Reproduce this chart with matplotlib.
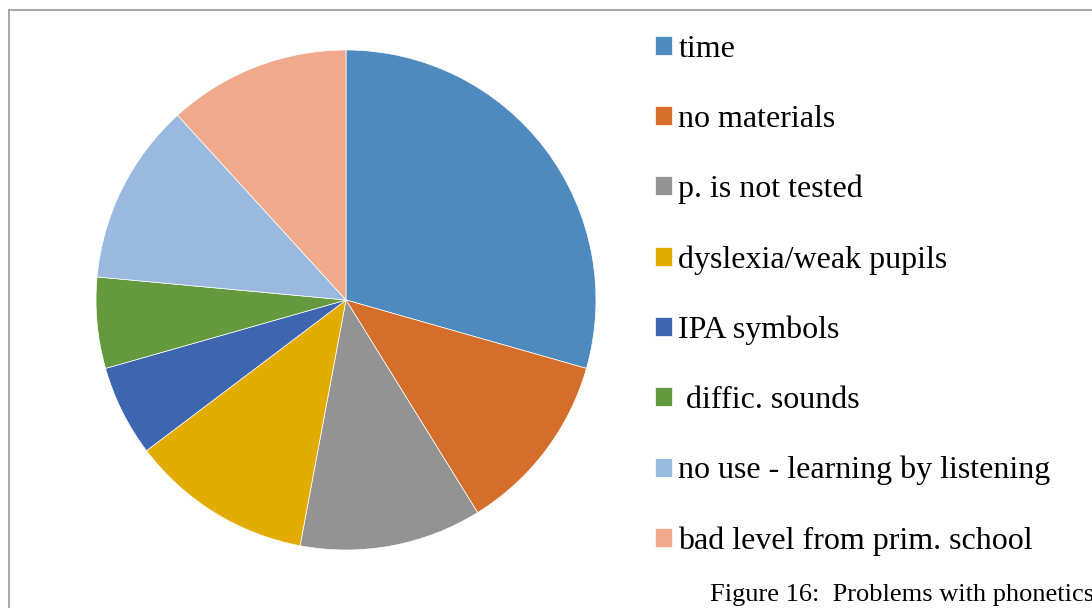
import matplotlib.pyplot as plt
from matplotlib.lines import Line2D

# problems with phonetics - number of answers
labels = ["time", "no materials", "p. is not tested", "dyslexia/weak pupils",
          "IPA symbols", " diffic. sounds", "no use - learning by listening",
          "bad level from prim. school"]
counts = [5, 2, 2, 2, 1, 1, 2, 2]
colors = ["#4F8ABE", "#D46E2A", "#939393", "#E2AC00",
          "#3E65AF", "#64993E", "#9AB9DF", "#F0A98A"]

W, H = 1092, 608
fig = plt.figure(figsize=(W / 100, H / 100), dpi=100)
plt.rcParams['font.family'] = ['Liberation Serif', 'DejaVu Serif']

# pie centre ~ (346, 300) px, radius ~250 px
cx, cy, r = 346, 300, 250
ax = fig.add_axes([(cx - r) / W, (H - cy - r) / H, 2 * r / W, 2 * r / H])
wedges, _ = ax.pie(counts, colors=colors, startangle=90, counterclock=False,
                   radius=1, wedgeprops=dict(edgecolor="white", linewidth=0.5))
ax.set_xlim(-1, 1)
ax.set_ylim(-1, 1)

leg = fig.legend(wedges, labels, loc="upper left",
                 bbox_to_anchor=(655 / W, 1 - 35 / H),
                 frameon=False, fontsize=23, borderpad=0, borderaxespad=0,
                 handlelength=0.54, handleheight=0.54, handletextpad=0.19,
                 labelspacing=1.28)

# chart border (only top and left visible)
fig.add_artist(Line2D([9 / W, 1], [1 - 10 / H, 1 - 10 / H], color="#999999", lw=1.2))
fig.add_artist(Line2D([9 / W, 9 / W], [0, 1 - 10 / H], color="#999999", lw=1.2))

fig.text(710 / W, 1 - 601 / H, "Figure 16:  Problems with phonetics",
         fontsize=19, va="baseline", ha="left")

fig.savefig("out.png", dpi=100)
